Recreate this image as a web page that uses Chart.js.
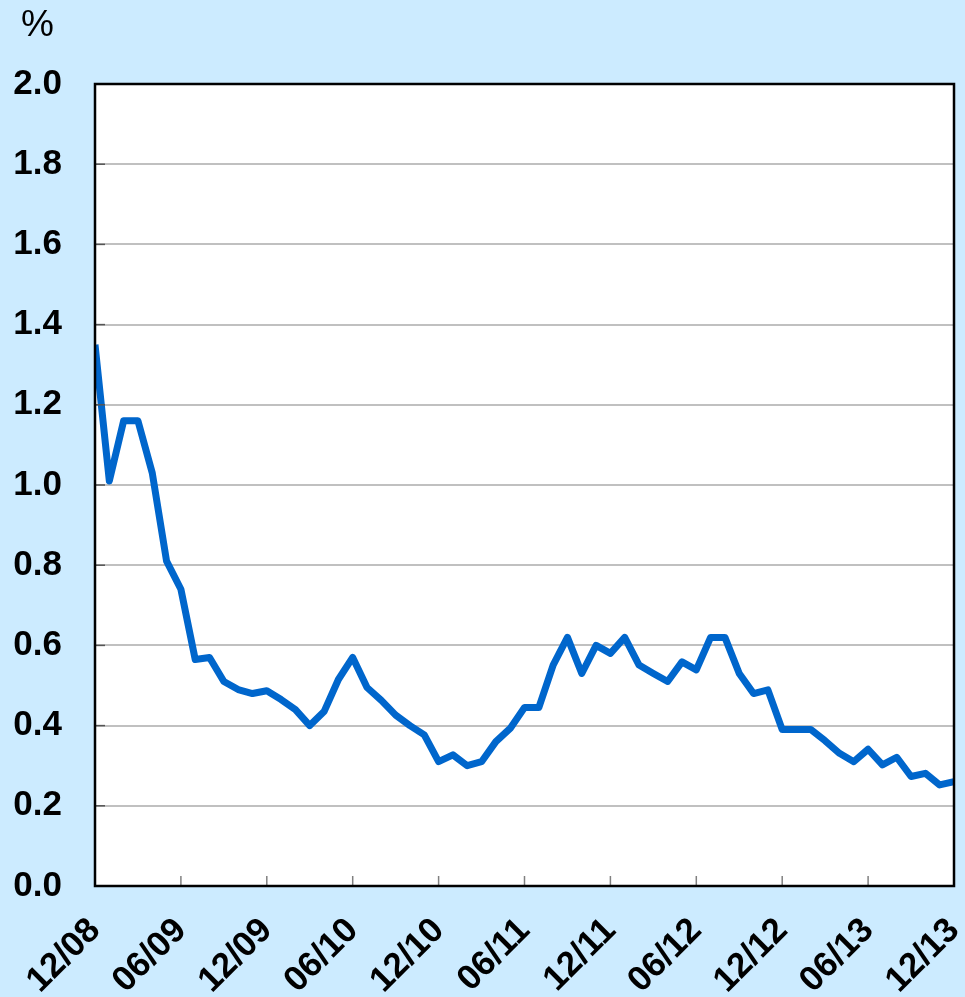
<!DOCTYPE html>
<html>
<head>
<meta charset="utf-8">
<script src="https://cdn.jsdelivr.net/npm/chart.js@4"></script>
<style>
  html, body { margin: 0; padding: 0; background: #CCEBFF; }
  #wrap { width: 965px; height: 997px; }
</style>
</head>
<body>
<div id="wrap"><canvas id="chart"></canvas></div>
<script>
// monthly values, 12/08 .. 12/13
const rates = [
  1.35, 1.01, 1.16, 1.16, 1.03, 0.81, 0.74, 0.565, 0.57, 0.51,
  0.49, 0.48, 0.487, 0.465, 0.44, 0.40, 0.435, 0.515, 0.57, 0.495,
  0.463, 0.426, 0.40, 0.377, 0.31, 0.327, 0.30, 0.31, 0.36, 0.393,
  0.445, 0.445, 0.551, 0.62, 0.53, 0.60, 0.58, 0.62, 0.551, 0.53,
  0.51, 0.559, 0.539, 0.62, 0.62, 0.53, 0.48, 0.489, 0.39, 0.39,
  0.39, 0.362, 0.331, 0.31, 0.341, 0.302, 0.321, 0.273, 0.281, 0.252,
  0.26
];
const tickLabels = ["12/08", "06/09", "12/09", "06/10", "12/10", "06/11",
                    "12/11", "06/12", "12/12", "06/13", "12/13"];
const yTicks = [0, 0.2, 0.4, 0.6, 0.8, 1.0, 1.2, 1.4, 1.6, 1.8, 2.0];

const FONT = 'Arial, "Liberation Sans", sans-serif';

const frame = {
  id: "frame",
  beforeDraw(chart) {
    const { ctx, chartArea: a } = chart;
    ctx.save();
    ctx.fillStyle = "#CCEBFF";
    ctx.fillRect(0, 0, chart.width, chart.height);
    ctx.fillStyle = "#FFFFFF";
    ctx.fillRect(a.left, a.top, a.right - a.left, a.bottom - a.top);
    ctx.restore();
  },
  afterDatasetsDraw(chart) {
    const { ctx, chartArea: a, scales } = chart;
    ctx.save();
    // inward tick marks
    ctx.strokeStyle = "#808080";
    ctx.lineWidth = 1.5;
    scales.x.ticks.forEach(t => {
      const px = scales.x.getPixelForValue(t.value);
      ctx.beginPath();
      ctx.moveTo(px, a.bottom);
      ctx.lineTo(px, a.bottom - 10);
      ctx.stroke();
    });
    ctx.strokeStyle = "#555555";
    scales.y.ticks.forEach(t => {
      const py = scales.y.getPixelForValue(t.value);
      ctx.beginPath();
      ctx.moveTo(a.left, py);
      ctx.lineTo(a.left + 10, py);
      ctx.stroke();
    });
    ctx.strokeStyle = "#000000";
    ctx.lineWidth = 2.5;
    ctx.strokeRect(a.left, a.top, a.right - a.left, a.bottom - a.top);
    // unit label
    ctx.fillStyle = "#000000";
    ctx.font = "37px " + FONT;
    ctx.textAlign = "left";
    ctx.textBaseline = "top";
    ctx.fillText("%", 21, 7);
    ctx.restore();
  }
};

new Chart(document.getElementById("chart"), {
  type: "line",
  data: {
    datasets: [{
      data: rates.map((v, i) => ({ x: i, y: v })),
      borderColor: "#0066CC",
      borderWidth: 7,
      pointRadius: 0,
      tension: 0,
      borderJoinStyle: "round"
    }]
  },
  options: {
    responsive: true,
    maintainAspectRatio: false,
    animation: false,
    layout: { padding: { top: 84, right: 11, left: 0, bottom: 0 } },
    plugins: { legend: { display: false }, tooltip: { enabled: false } },
    scales: {
      x: {
        type: "linear",
        min: 0,
        max: 60,
        afterFit(s) {
          s.height = 111;
          s.paddingLeft = 0;
          s.paddingRight = 0;
        },
        afterBuildTicks(s) {
          s.ticks = tickLabels.map((_, i) => ({ value: i * 6 }));
        },
        grid: { display: false, drawTicks: false },
        border: { display: false },
        ticks: {
          autoSkip: false,
          minRotation: 45,
          maxRotation: 45,
          padding: 24,
          color: "#000",
          font: { family: FONT, size: 35, weight: "bold" },
          callback: v => tickLabels[v / 6]
        }
      },
      y: {
        min: 0,
        max: 2.0,
        afterFit(s) { s.width = 95; },
        afterBuildTicks(s) {
          s.ticks = yTicks.map(v => ({ value: v }));
        },
        grid: { color: "#C0C0C0", lineWidth: 2, drawTicks: false },
        border: { display: false },
        ticks: {
          padding: 33,
          color: "#000",
          font: { family: FONT, size: 35, weight: "bold" },
          callback: v => v.toFixed(1)
        }
      }
    }
  },
  plugins: [frame]
});
</script>
</body>
</html>
